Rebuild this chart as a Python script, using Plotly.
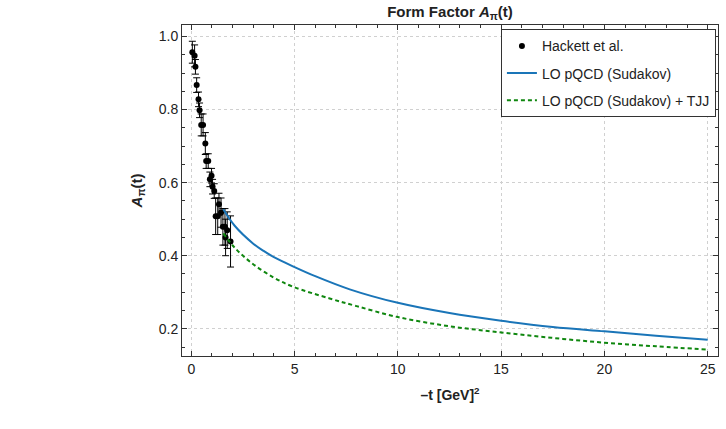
import plotly.graph_objects as go

# Hackett et al. lattice data
hackett_t = [0.05, 0.16, 0.20, 0.26, 0.35, 0.40, 0.48, 0.57, 0.68, 0.72, 0.82, 0.90,
             0.98, 1.03, 1.11, 1.18, 1.28, 1.34, 1.44, 1.53, 1.63, 1.66, 1.74, 1.90]
hackett_A = [0.957, 0.947, 0.917, 0.867, 0.828, 0.798, 0.758, 0.758, 0.707, 0.659, 0.659, 0.609,
             0.619, 0.589, 0.577, 0.508, 0.508, 0.541, 0.518, 0.479, 0.479, 0.450, 0.470, 0.439]
hackett_err = [0.03, 0.03, 0.02, 0.02, 0.02, 0.02, 0.03, 0.03, 0.03, 0.02, 0.02, 0.02,
               0.02, 0.02, 0.02, 0.05, 0.05, 0.03, 0.04, 0.05, 0.05, 0.05, 0.05, 0.07]

# LO pQCD (Sudakov)
sud_t = [1.55, 2.1, 3.0, 3.5, 4.0, 5.0, 6.0, 7.67, 10.0, 12.5, 15.0, 17.5, 20.0, 22.5, 25.0]
sud_A = [0.527, 0.482, 0.433, 0.413, 0.396, 0.369, 0.344, 0.308, 0.271, 0.243, 0.222, 0.205, 0.193, 0.181, 0.170]

# LO pQCD (Sudakov) + TJJ
tjj_t = [1.55, 2.1, 2.9, 4.0, 4.93, 6.7, 8.0, 10.0, 12.5, 15.0, 17.5, 20.0, 22.5, 25.0]
tjj_A = [0.461, 0.422, 0.381, 0.340, 0.315, 0.283, 0.262, 0.232, 0.207, 0.190, 0.175, 0.162, 0.152, 0.143]

fig = go.Figure()
fig.add_trace(go.Scatter(
    x=hackett_t, y=hackett_A, mode="markers", name="Hackett et al.",
    marker=dict(color="black", size=6),
    error_y=dict(type="data", array=hackett_err, color="black", thickness=1, width=3.5),
    legendgroup="a"))
fig.add_trace(go.Scatter(
    x=sud_t, y=sud_A, mode="lines", name="LO pQCD (Sudakov)",
    line=dict(color="#1a75b8", width=2, shape="spline"), legendgroup="b"))
fig.add_trace(go.Scatter(
    x=tjj_t, y=tjj_A, mode="lines", name="LO pQCD (Sudakov) + TJJ",
    line=dict(color="#0f870f", width=2, dash="4px,3px", shape="spline"), legendgroup="c"))

axis_common = dict(
    showline=True, linecolor="#333", linewidth=1, mirror="allticks",
    ticks="inside", ticklen=5, tickcolor="#333",
    showgrid=True, gridcolor="#d0d0d0", griddash="dot", gridwidth=1,
    zeroline=False, tickfont=dict(family="Liberation Sans, Arial", size=14, color="#222"),
)

fig.update_xaxes(range=[-0.45, 25.5], dtick=5, tick0=0,
                 minor=dict(dtick=1, ticks="inside", ticklen=3, tickcolor="#333", showgrid=False),
                 title=dict(text="<b>–t [GeV]<sup>2</sup></b>", font=dict(size=14, color="#222"), standoff=14),
                 **axis_common)
fig.update_yaxes(range=[0.1255, 1.0315], dtick=0.2, tick0=0, tickformat=".1f",
                 minor=dict(dtick=0.05, ticks="inside", ticklen=3, tickcolor="#333", showgrid=False),
                 title=dict(text="<b><i>A</i><sub>π</sub>(t)</b>", font=dict(size=15, color="#222"), standoff=12),
                 **axis_common)

fig.update_layout(
    width=726, height=429,
    margin=dict(l=182, r=8, t=25, b=73),
    paper_bgcolor="white", plot_bgcolor="white",
    font=dict(family="Liberation Sans, Arial", size=14, color="#222"),
    title=dict(text="<b>Form Factor <i>A</i><sub>π</sub>(t)</b>", xref="paper", x=0.5, xanchor="center",
               y=0.985, yanchor="top", font=dict(size=15, color="#222")),
    legend=dict(x=0.595, y=0.987, xanchor="left", yanchor="top",
                bordercolor="#333", borderwidth=1, bgcolor="white", itemwidth=30,
                font=dict(size=14, color="#222"), tracegroupgap=6),
    showlegend=True,
)

fig.write_html("out.html")
